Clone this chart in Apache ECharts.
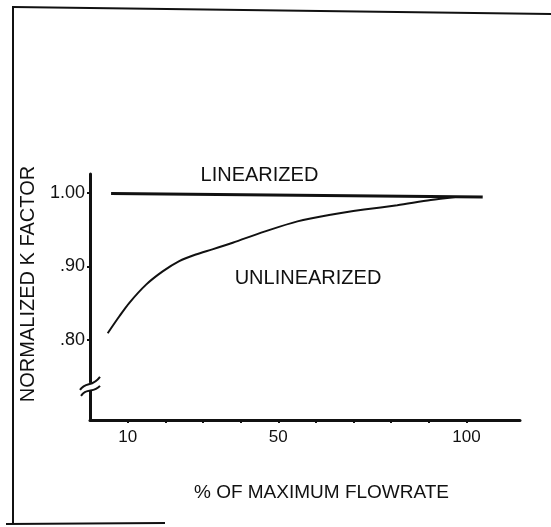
<!DOCTYPE html>
<html>
<head>
<meta charset="utf-8">
<script src="https://cdn.jsdelivr.net/npm/echarts@6/dist/echarts.min.js"></script>
<style>
html,body{margin:0;padding:0;background:#fff;}
#c{width:551px;height:527px;}
</style>
</head>
<body>
<div id="c"></div>
<script>
// ---- data ----
const xTickValues = [10, 20, 30, 40, 50, 60, 70, 80, 90, 100];
const xLabelValues = [10, 50, 100];
const yLabelValues = [0.80, 0.90, 1.00];
const linearizedX = [5.6, 104.3];
const linearizedY = [0.999, 0.994];
const unlinearizedX = [4.7, 7.8, 10.4, 14.9, 19.3, 23.7, 28.1, 32.5, 37.9, 46.3, 55.1, 63.9, 72.8, 81.6, 90.5, 97.0];
const unlinearizedY = [0.809, 0.832, 0.850, 0.875, 0.893, 0.907, 0.916, 0.923, 0.932, 0.947, 0.961, 0.970, 0.977, 0.983, 0.990, 0.994];
const seriesNames = ['LINEARIZED', 'UNLINEARIZED'];
const labelCoords = [[45.0, 1.0234], [57.9, 0.8835]];
const xTitle = '% OF MAXIMUM FLOWRATE';
const yTitle = 'NORMALIZED K FACTOR';
const breakValue = 0.736;

const FONT = '"Liberation Sans", Arial, Helvetica, sans-serif';
const INK = '#111';

const chart = echarts.init(document.getElementById('c'), null, {renderer: 'canvas'});

function zip(xs, ys) { return xs.map((x, i) => [x, ys[i]]); }

const option = {
  animation: false,
  backgroundColor: '#fff',
  grid: {left: 90, right: 31, top: 174, bottom: 107, containLabel: false},
  xAxis: {
    type: 'value',
    min: 0,
    max: 114.2,
    splitLine: {show: false},
    axisLine: {show: true, onZero: false, lineStyle: {color: INK, width: 3}},
    axisTick: {show: true, customValues: xTickValues, length: 3, lineStyle: {color: INK, width: 2}},
    axisLabel: {show: true, customValues: xLabelValues, margin: 9, color: INK, fontSize: 17, fontFamily: FONT},
    name: xTitle,
    nameLocation: 'middle',
    nameGap: 63,
    nameTextStyle: {color: INK, fontSize: 19, fontFamily: FONT, padding: [0, 0, 0, 33]}
  },
  yAxis: {
    type: 'value',
    min: 0.691,
    max: 1.0254,
    splitLine: {show: false},
    axisLine: {show: true, onZero: false, lineStyle: {color: INK, width: 3}},
    axisTick: {show: true, customValues: yLabelValues, length: 3, lineStyle: {color: INK, width: 2}},
    axisLabel: {
      show: true, customValues: yLabelValues, margin: 5, color: INK, fontSize: 18, fontFamily: FONT,
      formatter: function (v) { return v >= 0.995 ? '1.00' : ('.' + Math.round(v * 100)); }
    },
    name: yTitle,
    nameLocation: 'middle',
    nameRotate: 90,
    nameGap: 52,
    nameTextStyle: {color: INK, fontSize: 20, fontFamily: FONT, padding: [0, 0, 0, 26]}
  },
  series: [
    {
      name: seriesNames[0],
      type: 'line',
      data: zip(linearizedX, linearizedY),
      showSymbol: false,
      symbol: 'none',
      lineStyle: {color: INK, width: 3},
      markPoint: {
        symbol: 'circle', symbolSize: 1,
        itemStyle: {color: 'rgba(0,0,0,0)'},
        label: {show: true, position: 'inside', formatter: seriesNames[0], color: INK, fontSize: 20, fontFamily: FONT},
        data: [{coord: labelCoords[0]}]
      }
    },
    {
      name: seriesNames[1],
      type: 'line',
      data: zip(unlinearizedX, unlinearizedY),
      smooth: 0.3,
      showSymbol: false,
      symbol: 'none',
      lineStyle: {color: INK, width: 2},
      markPoint: {
        symbol: 'circle', symbolSize: 1,
        itemStyle: {color: 'rgba(0,0,0,0)'},
        label: {show: true, position: 'inside', formatter: seriesNames[1], color: INK, fontSize: 20, fontFamily: FONT},
        data: [{coord: labelCoords[1]}]
      }
    }
  ]
};
chart.setOption(option);

// decorations: frame of the scanned figure and the axis break symbol
const ax = chart.convertToPixel({gridIndex: 0}, [0, breakValue]);
const bx = ax[0], by = ax[1];
chart.setOption({
  graphic: [
    {type: 'line', shape: {x1: 13, y1: 6, x2: 13, y2: 524}, style: {stroke: INK, lineWidth: 2}},
    {type: 'line', shape: {x1: 13, y1: 7, x2: 551, y2: 14}, style: {stroke: INK, lineWidth: 2}},
    {type: 'line', shape: {x1: 6, y1: 524, x2: 165, y2: 523}, style: {stroke: INK, lineWidth: 2}},
    {type: 'rect', shape: {x: bx - 3, y: by - 4, width: 6, height: 8}, style: {fill: '#fff'}, z: 100},
    {type: 'bezierCurve', shape: {x1: bx - 10, y1: by + 3, cpx1: bx - 4, cpy1: by - 6, cpx2: bx + 2, cpy2: by + 1, x2: bx + 10, y2: by - 10}, style: {stroke: INK, lineWidth: 2, fill: null}, z: 101},
    {type: 'bezierCurve', shape: {x1: bx - 9, y1: by + 9, cpx1: bx - 3, cpy1: by, cpx2: bx + 3, cpy2: by + 7, x2: bx + 10, y2: by - 1}, style: {stroke: INK, lineWidth: 2, fill: null}, z: 101}
  ]
});
</script>
</body>
</html>
